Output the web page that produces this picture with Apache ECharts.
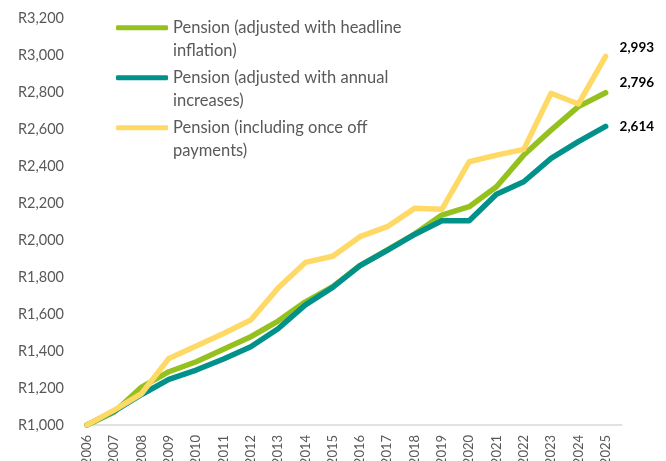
<!DOCTYPE html>
<html>
<head>
<meta charset="utf-8">
<script src="https://cdn.jsdelivr.net/npm/echarts@6/dist/echarts.min.js"></script>
<style>
  html, body { margin: 0; padding: 0; background: #fff; }
  #chart { width: 666px; height: 461px; }
</style>
</head>
<body>
<div id="chart"></div>
<script>
const years = [2006, 2007, 2008, 2009, 2010, 2011, 2012, 2013, 2014, 2015,
  2016, 2017, 2018, 2019, 2020, 2021, 2022, 2023, 2024, 2025]

// 养老金 (按通胀调整 / 按年度增幅 / 含一次性支付)
const headline = [1000, 1070, 1205, 1288, 1342, 1409, 1477, 1562, 1666, 1748,
  1862, 1946, 2032, 2135, 2180, 2288, 2459, 2594, 2721, 2796]
const annual = [1000, 1075, 1165, 1247, 1297, 1357, 1423, 1520, 1649, 1744,
  1862, 1944, 2030, 2104, 2104, 2247, 2315, 2441, 2532, 2614]
const onceOff = [1000, 1080, 1170, 1360, 1427, 1495, 1568, 1740, 1879, 1912,
  2018, 2072, 2171, 2166, 2423, 2459, 2490, 2793, 2735, 2993]

const names = [
  'Pension (adjusted with headline\ninflation)',
  'Pension (adjusted with annual\nincreases)',
  'Pension (including once off\npayments)'
]
const colors = ['#95C11F', '#00918A', '#FFD966']

const chart = echarts.init(document.getElementById('chart'))

const fmt = v => v.toLocaleString('en-US')

const makeSeries = (name, values, color, dy) => ({
  name,
  type: 'line',
  data: years.map((y, i) => [y, values[i]]),
  showSymbol: false,
  symbol: 'none',
  color,
  lineStyle: { width: 5.5, color, cap: 'round', join: 'round' },
  endLabel: {
    show: true,
    distance: 14,
    offset: [0, dy],
    formatter: p => fmt(p.value[1]),
    color: '#000',
    fontFamily: 'Lato',
    fontWeight: 'bold',
    fontSize: 13.5
  }
})

// 空的第一行让图例线条对齐文字第一行
const makeLegend = (name, top) => ({
  data: [name],
  left: 116,
  top,
  padding: 0,
  itemWidth: 52,
  itemHeight: 5,
  itemGap: 0,
  icon: 'roundRect',
  selectedMode: false,
  formatter: n => '\n' + n,
  textStyle: {
    fontFamily: 'Lato',
    fontSize: 16.5,
    color: '#595959',
    lineHeight: 22.5
  }
})

const option = {
  animation: false,
  backgroundColor: '#fff',
  grid: { left: 87, right: 44, top: 18, bottom: 36, outerBoundsMode: 'none' },
  legend: [
    makeLegend(names[0], -6),
    makeLegend(names[1], 44),
    makeLegend(names[2], 94)
  ],
  xAxis: {
    type: 'value',
    min: 2006,
    max: 2025.6,
    interval: 1,
    splitLine: { show: false },
    axisTick: { show: false },
    axisLine: { show: true, lineStyle: { color: '#D9D9D9', width: 1.5 } },
    axisLabel: {
      rotate: 90,
      margin: 10,
      showMaxLabel: false,
      fontFamily: 'Lato',
      fontSize: 13,
      color: '#595959',
      formatter: v => String(v)
    }
  },
  yAxis: {
    type: 'value',
    min: 1000,
    max: 3200,
    interval: 200,
    splitLine: { show: false },
    axisLine: { show: false },
    axisTick: { show: false },
    axisLabel: {
      margin: 23,
      fontFamily: 'Lato',
      fontSize: 14.5,
      color: '#595959',
      formatter: v => 'R' + fmt(v)
    }
  },
  series: [
    makeSeries(names[0], headline, colors[0], -10),
    makeSeries(names[1], annual, colors[1], 0),
    makeSeries(names[2], onceOff, colors[2], -9)
  ]
}

chart.setOption(option)
window.addEventListener('resize', () => chart.resize())
</script>
</body>
</html>
